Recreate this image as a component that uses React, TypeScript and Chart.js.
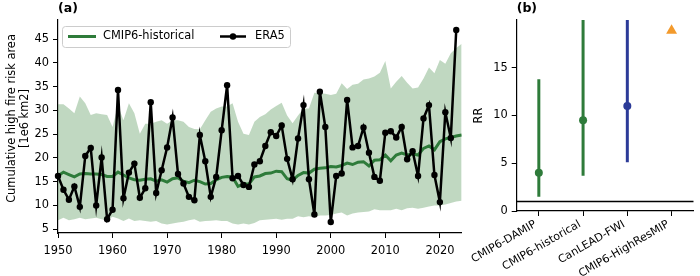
import React, { useEffect, useRef } from "react";
import { Chart, registerables } from "chart.js";

Chart.register(...registerables);

// ---------- Panel (a) data ----------
const START_YEAR = 1950;
const X_TICKS = [1950, 1960, 1970, 1980, 1990, 2000, 2010, 2020];
const Y_TICKS_A = [5, 10, 15, 20, 25, 30, 35, 40, 45];
const Y_TITLE_A = ["Cumulative high fire risk area", "[1e6 km2]"];

const ERA5 = [
  16.2, 13.3, 11.2, 14.0, 9.7, 20.4, 22.1, 10.0, 20.1, 7.1,
  9.1, 34.3, 11.5, 16.9, 18.8, 11.6, 13.6, 31.7, 12.6, 17.4,
  22.2, 28.5, 16.6, 14.6, 11.8, 11.1, 24.8, 19.3, 11.8, 16.0,
  25.8, 35.3, 15.7, 16.2, 14.3, 13.9, 18.6, 19.3, 22.5, 25.4,
  24.6, 26.8, 19.8, 15.5, 24.1, 31.1, 15.5, 8.1, 33.9, 26.5,
  6.5, 16.2, 16.7, 32.2, 22.2, 22.5, 26.4, 21.1, 16.0, 15.2,
  25.3, 25.6, 24.3, 26.5, 19.7, 21.4, 16.2, 28.3, 31.1, 16.4,
  10.7, 29.6, 24.2, 46.9,
];

const CMIP_MEAN = [
  16.2, 17.0, 16.5, 16.0, 16.6, 16.7, 16.6, 16.6, 16.5, 16.1,
  16.1, 17.0, 16.4, 15.8, 15.4, 15.3, 15.5, 15.6, 15.1, 15.4,
  14.9, 15.6, 15.8, 15.1, 14.8, 15.3, 15.0, 14.5, 14.6, 15.4,
  15.9, 16.1, 16.0, 14.0, 14.5, 14.5, 16.0, 16.2, 16.7, 16.8,
  17.2, 17.1, 15.6, 15.3, 16.3, 16.9, 16.8, 17.6, 17.8, 17.9,
  18.2, 18.1, 18.4, 18.9, 18.6, 19.1, 19.2, 18.3, 19.5, 19.6,
  20.6, 19.4, 20.6, 21.0, 20.6, 20.8, 20.6, 22.0, 22.5, 21.7,
  23.4, 24.0, 24.3, 24.6, 24.8,
];

const CMIP_HIGH = [
  31.3, 31.3, 30.4, 29.4, 32.9, 31.5, 29.0, 29.4, 29.2, 29.0,
  26.5, 31.0, 27.9, 31.5, 29.4, 25.1, 27.2, 27.2, 27.6, 27.9,
  27.2, 27.9, 27.9, 27.6, 26.5, 26.1, 26.0, 27.9, 29.7, 30.4,
  30.8, 30.8, 31.5, 27.6, 25.1, 24.8, 27.6, 28.6, 29.2, 30.2,
  30.9, 31.6, 28.9, 27.3, 28.9, 30.4, 30.4, 33.7, 33.6, 33.5,
  33.2, 33.5, 35.7, 34.5, 35.4, 35.6, 36.5, 36.7, 37.1, 37.9,
  40.4, 34.6, 36.0, 37.2, 35.8, 34.6, 34.8, 36.7, 39.0, 37.8,
  40.6, 39.8, 42.0, 43.1, 44.0,
];

const CMIP_LOW = [
  6.9, 7.4, 6.9, 7.1, 7.4, 7.1, 7.25, 7.4, 7.1, 6.9,
  7.6, 7.25, 6.7, 7.25, 6.7, 6.9, 6.7, 6.55, 6.7, 6.2,
  6.0, 6.2, 6.4, 6.55, 6.9, 7.1, 6.55, 6.7, 6.8, 6.9,
  6.7, 6.7, 6.2, 6.0, 6.2, 6.0, 6.3, 6.9, 7.0, 7.1,
  7.2, 7.0, 7.2, 7.2, 7.7, 7.5, 7.7, 7.5, 7.9, 7.9,
  8.0, 8.3, 8.5, 7.9, 8.3, 8.5, 8.6, 8.7, 9.2, 9.0,
  9.0, 9.0, 9.3, 9.0, 9.4, 9.5, 9.3, 9.5, 9.8, 10.0,
  10.0, 10.2, 10.5, 10.8, 11.0,
];

// ---------- Panel (b) data ----------
const MODELS = ["CMIP6-DAMIP", "CMIP6-historical", "CanLEAD-FWI", "CMIP6-HighResMIP"];
const RR_BEST = [4.0, 9.5, 11.0, 18.9];
const RR_LOW: (number | null)[] = [1.5, 3.7, 5.1, null];
const RR_HIGH: (number | null)[] = [13.8, 26.0, 26.0, null];
const Y_TICKS_B = [0, 5, 10, 15];
const RR_REF = 1;

const GREEN = "#2e7b3a";
const BAND = "rgba(46,125,50,0.3)";
const BLUE = "#2c3b98";
const ORANGE = "#f39a2c";
const MODEL_COLORS = [GREEN, GREEN, BLUE, ORANGE];
const MODEL_MARKERS = ["circle", "circle", "circle", "triangle"];
const MODEL_RADII = [4, 4, 4, 6.3];

const FONT = '"DejaVu Sans", sans-serif';
const FS = 11.4;

const toPts = (arr: number[]) => arr.map((v, i) => ({ x: START_YEAR + i, y: v }));

function panelTitle(text: string) {
  return {
    id: "panelTitle" + text,
    afterDraw(chart: any) {
      const { ctx, chartArea } = chart;
      ctx.save();
      ctx.font = `bold 12.5px ${FONT}`;
      ctx.fillStyle = "#000";
      ctx.textAlign = "left";
      ctx.textBaseline = "middle";
      ctx.fillText(text, chartArea.left, 8.5);
      ctx.restore();
    },
  };
}

// y-axis label of panel (a), placed like matplotlib's ylabel
const yTitleA = {
  id: "yTitleA",
  afterDraw(chart: any) {
    const { ctx } = chart;
    ctx.save();
    ctx.font = `${FS}px ${FONT}`;
    ctx.fillStyle = "#000";
    ctx.textAlign = "center";
    ctx.textBaseline = "middle";
    const xs = [12, 25];
    Y_TITLE_A.forEach((t, i) => {
      ctx.save();
      ctx.translate(xs[i], 118.5);
      ctx.rotate(-Math.PI / 2);
      ctx.fillText(t, 0, 0);
      ctx.restore();
    });
    ctx.restore();
  },
};

// rotated category labels of panel (b), right-aligned at their ticks
const rotatedLabels = {
  id: "rotatedLabels",
  afterDraw(chart: any) {
    const { ctx, chartArea } = chart;
    const sx = chart.scales.x;
    const ang = (30 * Math.PI) / 180;
    const fs = 11;
    const H = fs * 1.17;
    const top0 = chartArea.bottom + 7;
    ctx.save();
    ctx.font = `${fs}px ${FONT}`;
    ctx.fillStyle = "#000";
    ctx.textAlign = "center";
    ctx.textBaseline = "middle";
    MODELS.forEach((m, i) => {
      const px = sx.getPixelForValue(i);
      const W = ctx.measureText(m).width;
      const bw = W * Math.cos(ang) + H * Math.sin(ang);
      const bh = W * Math.sin(ang) + H * Math.cos(ang);
      ctx.save();
      ctx.translate(px - bw / 2, top0 + bh / 2);
      ctx.rotate(-ang);
      ctx.fillText(m, 0, 0);
      ctx.restore();
    });
    ctx.restore();
  },
};

const boxLegend = {
  id: "boxLegend",
  afterDraw(chart: any) {
    const { ctx, chartArea } = chart;
    const ds = chart.data.datasets;
    const x0 = chartArea.left + 4;
    const y0 = chartArea.top + 6;
    const w = 228;
    const h = 21;
    const cy = y0 + h / 2;
    ctx.save();
    ctx.beginPath();
    (ctx as any).roundRect(x0 + 0.5, y0 + 0.5, w, h, 3);
    ctx.fillStyle = "rgba(255,255,255,0.8)";
    ctx.fill();
    ctx.strokeStyle = "#cccccc";
    ctx.lineWidth = 1;
    ctx.stroke();

    ctx.strokeStyle = ds[1].borderColor;
    ctx.lineWidth = 3;
    ctx.beginPath();
    ctx.moveTo(x0 + 6, cy);
    ctx.lineTo(x0 + 34, cy);
    ctx.stroke();

    ctx.font = `${FS}px ${FONT}`;
    ctx.fillStyle = "#000";
    ctx.textAlign = "left";
    ctx.textBaseline = "middle";
    ctx.fillText(ds[1].label, x0 + 41, cy);

    ctx.strokeStyle = "#000";
    ctx.lineWidth = 2.5;
    ctx.beginPath();
    ctx.moveTo(x0 + 158, cy);
    ctx.lineTo(x0 + 184, cy);
    ctx.stroke();
    ctx.beginPath();
    ctx.arc(x0 + 171, cy, 3.2, 0, Math.PI * 2);
    ctx.fill();
    ctx.fillText(ds[0].label, x0 + 193, cy);
    ctx.restore();
  },
};

const axisCommon = {
  grid: { display: true, drawOnChartArea: false, drawTicks: true, tickLength: 5, color: "#000", lineWidth: 1 },
  border: { display: true, color: "#000", width: 1.2 },
};

export default function App() {
  const leftRef = useRef<HTMLCanvasElement>(null);
  const rightRef = useRef<HTMLCanvasElement>(null);

  useEffect(() => {
    Chart.defaults.font.family = FONT;
    Chart.defaults.color = "#000";

    const left = new Chart(leftRef.current as HTMLCanvasElement, {
      type: "line",
      data: {
        datasets: [
          {
            label: "ERA5",
            data: toPts(ERA5),
            borderColor: "#000",
            backgroundColor: "#000",
            borderWidth: 2.5,
            pointRadius: 3.2,
            pointBorderWidth: 0,
            pointBackgroundColor: "#000",
            fill: false,
            tension: 0,
            clip: false,
          } as any,
          {
            label: "CMIP6-historical",
            data: toPts(CMIP_MEAN),
            borderColor: GREEN,
            borderWidth: 3,
            pointRadius: 0,
            fill: false,
            tension: 0,
          },
          {
            label: "upper",
            data: toPts(CMIP_HIGH),
            borderColor: "rgba(0,0,0,0)",
            borderWidth: 0,
            pointRadius: 0,
            backgroundColor: BAND,
            fill: "+1",
            tension: 0,
          },
          {
            label: "lower",
            data: toPts(CMIP_LOW),
            borderColor: "rgba(0,0,0,0)",
            borderWidth: 0,
            pointRadius: 0,
            fill: false,
            tension: 0,
          },
        ],
      },
      options: {
        animation: false,
        responsive: false,
        events: [],
        layout: { padding: { top: 20, right: 8.3, left: 0, bottom: 0 } },
        plugins: { legend: { display: false }, tooltip: { enabled: false } },
        scales: {
          x: {
            type: "linear",
            min: 1950,
            max: 2024,
            afterBuildTicks: (s: any) => {
              s.ticks = X_TICKS.map((v) => ({ value: v }));
            },
            afterFit: (s: any) => {
              s.height = 43;
              s.paddingLeft = 0;
              s.paddingRight = 0;
            },
            ticks: { font: { size: FS }, color: "#000", padding: 6.5, maxRotation: 0, autoSkip: false, callback: (v: any) => String(v) },
            ...axisCommon,
          },
          y: {
            type: "linear",
            min: 4.2,
            max: 49,
            afterBuildTicks: (s: any) => {
              s.ticks = Y_TICKS_A.map((v) => ({ value: v }));
            },
            afterFit: (s: any) => {
              s.width = 58;
              s.paddingTop = 0;
              s.paddingBottom = 0;
            },
            ticks: { font: { size: FS }, color: "#000", padding: 4 },
            title: { display: false },
            ...axisCommon,
          },
        },
      } as any,
      plugins: [boxLegend, panelTitle("(a)"), yTitleA],
    });

    const rightDatasets: any[] = [];
    MODELS.forEach((m, i) => {
      rightDatasets.push({
        label: m,
        data: [{ x: i, y: RR_BEST[i] }],
        showLine: false,
        pointStyle: MODEL_MARKERS[i],
        pointRadius: MODEL_RADII[i],
        pointBackgroundColor: MODEL_COLORS[i],
        pointBorderColor: MODEL_COLORS[i],
        pointBorderWidth: 0,
        clip: false,
      });
    });
    MODELS.forEach((m, i) => {
      if (RR_LOW[i] == null || RR_HIGH[i] == null) return;
      rightDatasets.push({
        label: m + " range",
        data: [
          { x: i, y: RR_LOW[i] },
          { x: i, y: RR_HIGH[i] },
        ],
        borderColor: MODEL_COLORS[i],
        borderWidth: 3,
        pointRadius: 0,
        fill: false,
      });
    });
    rightDatasets.push({
      label: "RR = 1",
      data: [
        { x: -0.5, y: RR_REF },
        { x: 3.5, y: RR_REF },
      ],
      borderColor: "#000",
      borderWidth: 1.5,
      pointRadius: 0,
      fill: false,
    });

    const right = new Chart(rightRef.current as HTMLCanvasElement, {
      type: "line",
      data: { datasets: rightDatasets },
      options: {
        animation: false,
        responsive: false,
        events: [],
        layout: { padding: { top: 20, right: 0, left: 0, bottom: 0 } },
        plugins: { legend: { display: false }, tooltip: { enabled: false } },
        scales: {
          x: {
            type: "linear",
            min: -0.5,
            max: 3.5,
            afterBuildTicks: (s: any) => {
              s.ticks = MODELS.map((_, i) => ({ value: i }));
            },
            afterFit: (s: any) => {
              s.height = 65;
              s.paddingLeft = 0;
              s.paddingRight = 0;
            },
            ticks: { display: false },
            ...axisCommon,
          },
          y: {
            type: "linear",
            min: 0,
            max: 20,
            afterBuildTicks: (s: any) => {
              s.ticks = Y_TICKS_B.map((v) => ({ value: v }));
            },
            afterFit: (s: any) => {
              s.width = 46.7;
              s.paddingTop = 0;
              s.paddingBottom = 0;
            },
            ticks: { font: { size: FS }, color: "#000", padding: 4 },
            title: {
              display: true,
              text: "RR",
              font: { size: FS, lineHeight: 1.15 },
              color: "#000",
              padding: { top: 2, bottom: 0 },
            },
            ...axisCommon,
          },
        },
      } as any,
      plugins: [panelTitle("(b)"), rotatedLabels],
    });

    return () => {
      left.destroy();
      right.destroy();
    };
  }, []);

  return (
    <div style={{ position: "fixed", left: 0, top: 0, width: 700, height: 276, background: "#fff", overflow: "hidden" }}>
      <canvas ref={leftRef} width={470} height={276} style={{ position: "absolute", left: 0, top: 0, width: 470, height: 276 }} />
      <canvas ref={rightRef} width={230} height={276} style={{ position: "absolute", left: 470, top: 0, width: 230, height: 276 }} />
    </div>
  );
}
